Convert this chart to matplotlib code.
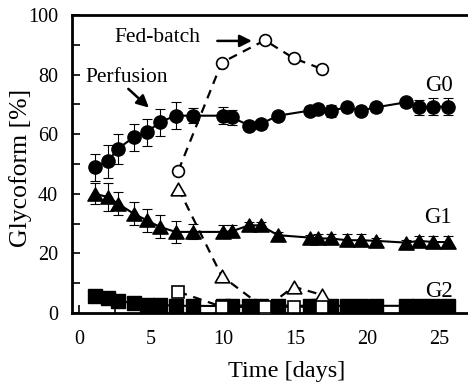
import matplotlib
matplotlib.use("Agg")
from matplotlib import pyplot as plt
from matplotlib.path import Path
from matplotlib.ticker import MultipleLocator

plt.rcParams["font.family"] = ["Liberation Serif", "DejaVu Serif"]

# perfusion culture (filled markers, solid line)
perf_days = [1.1, 2.0, 2.7, 3.8, 4.7, 5.6, 6.7, 7.9, 10.0, 10.6, 11.8, 12.6,
             13.8, 16.0, 16.6, 17.5, 18.6, 19.6, 20.6, 22.7, 23.6, 24.6, 25.6]
perf_g0 = [48.9, 50.9, 55.1, 59.0, 60.6, 64.0, 66.2, 66.2, 66.2, 65.7, 62.9, 63.4,
           66.2, 67.9, 68.5, 67.9, 69.0, 67.9, 69.0, 70.7, 69.0, 69.2, 69.2]
perf_g0_err = [4.5, 5.5, 5.0, 4.5, 4.5, 4.5, 4.5, 2.5, 2.8, 2.5, 1.5, 1.5,
               1.5, 1.5, 1.5, 2.0, 1.5, 1.5, 1.5, 1.5, 2.5, 2.8, 2.8]
perf_g1 = [40.0, 38.9, 36.7, 33.3, 31.1, 28.9, 27.2, 27.2, 27.2, 27.4, 29.4, 29.4,
           26.1, 25.3, 25.0, 25.0, 24.4, 24.4, 24.2, 23.6, 24.2, 23.8, 23.8]
perf_g1_err = [3.6, 4.7, 3.9, 3.9, 3.9, 3.9, 3.6, 2.5, 2.2, 2.0, 1.0, 1.0,
               1.0, 1.0, 1.5, 1.5, 2.0, 2.0, 1.0, 1.0, 1.5, 2.0, 2.0]
perf_g2 = [5.7, 5.1, 4.1, 3.2, 2.7, 2.7, 2.4, 2.4, 2.3, 2.5, 2.5, 2.5,
           2.5, 2.4, 2.4, 2.4, 2.4, 2.4, 2.4, 2.4, 2.4, 2.4, 2.4]
perf_g2_err = [0.5] * len(perf_days)

# fed-batch culture (open markers, dashed line)
fb_days = [6.9, 9.9, 12.9, 14.9, 16.9]
fb_g0 = [47.8, 84.0, 91.5, 85.5, 81.8]
fb_g1 = [41.7, 12.4, 1.5, 8.8, 6.0]
fb_g2 = [7.1, 2.1, 2.0, 2.1, 2.1]

# wide, equilateral-looking triangle
tri = Path([(-1, -0.866), (1, -0.866), (0, 0.866), (-1, -0.866)],
           [Path.MOVETO, Path.LINETO, Path.LINETO, Path.CLOSEPOLY])

fig = plt.figure(figsize=(4.68, 3.84), dpi=100)
ax = fig.add_axes([0.1538, 0.185, 1.0 - 0.1538, 0.776])

err_kw = dict(color="black", lw=1.5, ecolor="black", elinewidth=0.8,
              capsize=3.6, capthick=0.8, zorder=3)
ax.errorbar(perf_days, perf_g0, yerr=perf_g0_err, marker="o", ms=9.5, **err_kw)
ax.errorbar(perf_days, perf_g1, yerr=perf_g1_err, marker=tri, ms=11, **err_kw)
ax.errorbar(perf_days, perf_g2, yerr=perf_g2_err, marker="s", ms=9.5, **err_kw)

fb_kw = dict(color="black", lw=1.6, linestyle=(0, (4, 3)), mfc="white",
             mec="black", mew=1.2, zorder=4)
ax.plot(fb_days, fb_g0, marker="o", ms=8.5, **fb_kw)
ax.plot(fb_days, fb_g1, marker=tri, ms=10.5, **fb_kw)
ax.plot(fb_days, fb_g2, marker="s", ms=8, **fb_kw)

arrow_kw = dict(arrowstyle="-|>", color="black", lw=1.8,
                mutation_scale=18, shrinkA=0, shrinkB=0)
ax.text(5.45, 92.3, "Fed-batch", fontsize=15.5, ha="center", va="center")
ax.annotate("", xy=(12.0, 91.3), xytext=(9.6, 91.3), arrowprops=arrow_kw)
ax.text(3.3, 78.9, "Perfusion", fontsize=15.5, ha="center", va="center")
ax.annotate("", xy=(4.85, 68.9), xytext=(3.42, 75.2), arrowprops=arrow_kw)

ax.text(25.0, 76.4, "G0", fontsize=16.5, ha="center", va="center")
ax.text(24.9, 31.9, "G1", fontsize=16.5, ha="center", va="center")
ax.text(25.0, 7.2, "G2", fontsize=16.5, ha="center", va="center")

ax.set_xlim(-0.49, 27.0)
ax.set_ylim(0, 100)
ax.xaxis.set_major_locator(MultipleLocator(5))
ax.xaxis.set_minor_locator(MultipleLocator(2.5))
ax.yaxis.set_major_locator(MultipleLocator(20))
ax.yaxis.set_minor_locator(MultipleLocator(10))
ax.tick_params(which="both", direction="in", length=6, width=1.2,
               top=False, right=False)
ax.tick_params(axis="x", labelsize=14.5, pad=12)
ax.tick_params(axis="y", labelsize=14.5, pad=10)

for side in ["left", "bottom", "top"]:
    ax.spines[side].set_linewidth(2.0)
ax.spines["right"].set_visible(False)

ax.set_xlabel("Time [days]", fontsize=17.5, va="center")
ax.set_ylabel("Glycoform [%]", fontsize=18.5, va="center")
ax.xaxis.set_label_coords(0.543, -0.195)
ax.yaxis.set_label_coords(-0.131, 0.487)

fig.savefig("out.png", dpi=100)
